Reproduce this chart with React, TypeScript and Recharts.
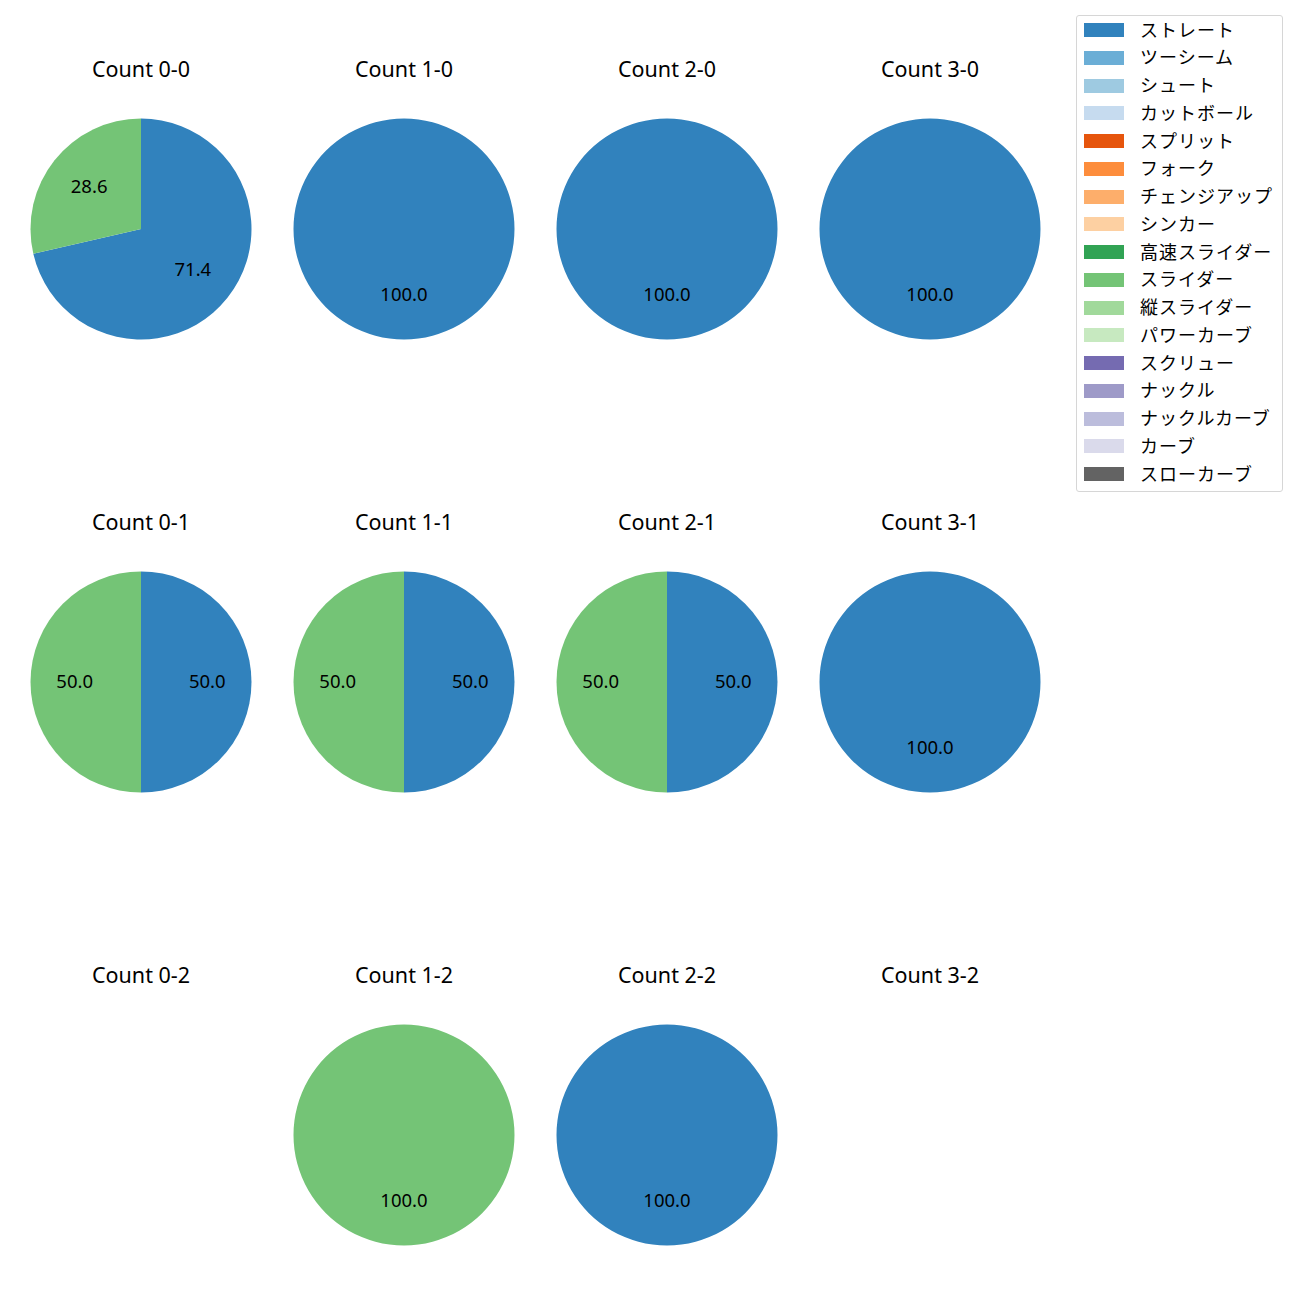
import { PieChart, Pie, Cell } from 'recharts';

const pitchTypes = [
  'ストレート', 'ツーシーム', 'シュート', 'カットボール', 'スプリット', 'フォーク',
  'チェンジアップ', 'シンカー', '高速スライダー', 'スライダー', '縦スライダー',
  'パワーカーブ', 'スクリュー', 'ナックル', 'ナックルカーブ', 'カーブ', 'スローカーブ',
];
const pitchColors = [
  '#3182bd', '#6baed6', '#9ecae1', '#c6dbef', '#e6550d', '#fd8d3c',
  '#fdae6b', '#fdd0a2', '#31a354', '#74c476', '#a1d99b',
  '#c7e9c0', '#756bb1', '#9e9ac8', '#bcbddc', '#dadaeb', '#636363',
];

// grid order: balls 0..3 across, strikes 0..2 down
const countLabels = ['0-0', '1-0', '2-0', '3-0', '0-1', '1-1', '2-1', '3-1', '0-2', '1-2', '2-2', '3-2'];
const straightShare = [71.4, 100, 100, 100, 50, 50, 50, 100, 0, 0, 100, 0];
const sliderShare = [28.6, 0, 0, 0, 50, 50, 50, 0, 0, 100, 0, 0];

const colX = [141, 404, 667, 930];
const rowY = [229, 682, 1135];
const titleOffset = 161;
const R = 110.5;
const FONT = '"Noto Sans", "Noto Sans CJK JP", sans-serif';
const CJK = '"Noto Sans CJK JP", sans-serif';
const RAD = Math.PI / 180;

function renderLabel(props: any) {
  const { cx, cy, midAngle, outerRadius, value } = props;
  const r = outerRadius * 0.6;
  const x = cx + r * Math.cos(-midAngle * RAD);
  const y = cy + r * Math.sin(-midAngle * RAD) - 2;
  return (
    <text x={x} y={y} textAnchor="middle" dominantBaseline="central" fill="#000" fontSize={18.5} fontFamily={FONT}>
      {Number(value).toFixed(1)}
    </text>
  );
}

function CountPie({ idx }: { idx: number }) {
  const col = idx % 4;
  const row = Math.floor(idx / 4);
  const cxPage = colX[col];
  const cyPage = rowY[row];
  const slices = [
    { name: pitchTypes[0], value: straightShare[idx], color: pitchColors[0] },
    { name: pitchTypes[9], value: sliderShare[idx], color: pitchColors[9] },
  ].filter((s) => s.value > 0);
  const size = 240;

  return (
    <>
      <div
        style={{
          position: 'absolute',
          left: cxPage,
          top: cyPage - titleOffset,
          transform: 'translate(-50%, -50%)',
          fontSize: 21.5,
          fontFamily: FONT,
          whiteSpace: 'nowrap',
          color: '#000',
        }}
      >
        Count {countLabels[idx]}
      </div>
      {slices.length > 0 && (
        <div style={{ position: 'absolute', left: cxPage - size / 2, top: cyPage - size / 2 }}>
          <PieChart width={size} height={size} margin={{ top: 0, right: 0, bottom: 0, left: 0 }}>
            <Pie
              data={slices}
              dataKey="value"
              cx={size / 2}
              cy={size / 2}
              outerRadius={R}
              startAngle={90}
              endAngle={-270}
              stroke="none"
              labelLine={false}
              label={renderLabel}
              isAnimationActive={false}
            >
              {slices.map((s) => (
                <Cell key={s.name} fill={s.color} />
              ))}
            </Pie>
          </PieChart>
        </div>
      )}
    </>
  );
}

function LegendBox() {
  return (
    <div
      style={{
        position: 'absolute',
        left: 1076,
        top: 15,
        width: 205,
        height: 475,
        border: '1px solid #d6d6d6',
        borderRadius: 3,
        background: '#fff',
        fontFamily: CJK,
        fontSize: 18,
        letterSpacing: 1,
      }}
    >
      {pitchTypes.map((name, i) => (
        <div
          key={name}
          style={{ position: 'absolute', left: 0, top: i * 27.75, height: 28, display: 'flex', alignItems: 'center' }}
        >
          <div style={{ width: 40, height: 14, background: pitchColors[i], marginLeft: 7, flexShrink: 0 }} />
          <span style={{ marginLeft: 16, whiteSpace: 'nowrap', color: '#000', lineHeight: '28px', position: 'relative', top: -1.5 }}>{name}</span>
        </div>
      ))}
    </div>
  );
}

export default function App() {
  return (
    <div style={{ position: 'absolute', left: 0, top: 0, width: 1300, height: 1300, background: '#fff' }}>
      {countLabels.map((_, i) => (
        <CountPie key={i} idx={i} />
      ))}
      <LegendBox />
    </div>
  );
}
